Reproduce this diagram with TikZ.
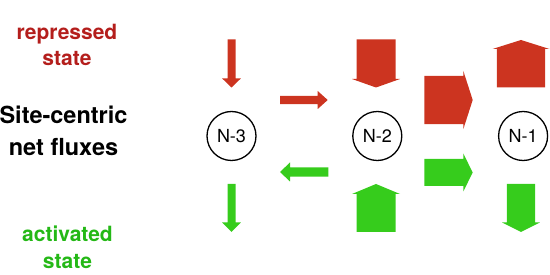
\documentclass[tikz,border=0pt]{standalone}
\usepackage{fontspec}
\setmainfont{TeX Gyre Heros}
\usetikzlibrary{positioning}

\definecolor{repText}{HTML}{B41E1C}
\definecolor{repFill}{HTML}{CC3420}
\definecolor{actText}{HTML}{24B816}
\definecolor{actFill}{HTML}{36CC1C}

% vertical block arrow: style, x centre, y start, y head base, y tip, shaft half width, head half width
\newcommand{\vFlux}[7]{%
	\fill[#1] (#2-#6,#3) -- (#2+#6,#3) -- (#2+#6,#4) -- (#2+#7,#4) -- (#2,#5)
		-- (#2-#7,#4) -- (#2-#6,#4) -- cycle;}
% horizontal block arrow: style, y centre, x start, x head base, x tip, shaft half width, head half width
\newcommand{\hFlux}[7]{%
	\fill[#1] (#3,#2-#6) -- (#3,#2+#6) -- (#4,#2+#6) -- (#4,#2+#7) -- (#5,#2)
		-- (#4,#2-#7) -- (#4,#2-#6) -- cycle;}

\begin{document}
\begin{tikzpicture}[
			x=1pt, y=-1pt,
			% Node styles
			siteNode/.style={circle, draw=black, line width=1.3pt, minimum size=49pt, inner sep=0pt, font=\fontsize{18}{18}\selectfont},
			stateLabel/.style={align=center, font=\fontsize{21}{26.5}\selectfont\bfseries},
			% Arrow styles
			repFlux/.style={fill=repFill},
			actFlux/.style={fill=actFill}
			]
			\useasboundingbox (0,0) rectangle (550,275);
			
			% =========================================================
			% 1. LABELS (Left Column)
			% =========================================================
			
			\node[stateLabel, text=repText] (repLabel) at (67,45) {repressed\\state};
			\node[align=center, font=\fontsize{23.5}{31.5}\selectfont\bfseries] (fluxLabel) at (63.5,131) {Site-centric\\net fluxes};
			\node[stateLabel, text=actText] (actLabel) at (67.5,247.5) {activated\\state};
			
			% =========================================================
			% 2. SITES
			% =========================================================
			
			\node[siteNode] (N3) at (231.5,136) {N-3};
			\node[siteNode, right=95.5pt of N3] (N2) {N-2};
			\node[siteNode, right=95.5pt of N2] (N1) {N-1};
			
			% =========================================================
			% 3. FLUXES
			% =========================================================
			
			% repressed state (above)
			\vFlux{repFlux}{231.5}{39.5}{78.5}{87.5}{4}{9.3}
			\vFlux{repFlux}{376}{39.5}{79}{87.5}{19.5}{24}
			\vFlux{repFlux}{521}{87.5}{49}{40}{24.2}{28.5}
			\hFlux{repFlux}{100}{280}{317.7}{327.7}{4.2}{9}
			\hFlux{repFlux}{100}{424.3}{463.3}{472.7}{24.2}{29.2}
			
			% activated state (below)
			\vFlux{actFlux}{231.5}{184}{222.5}{232}{4}{9.3}
			\vFlux{actFlux}{376}{232}{194}{184}{19.5}{24}
			\vFlux{actFlux}{521}{184}{222.5}{232}{14.2}{18.8}
			\hFlux{actFlux}{172}{328.3}{290}{280}{4.7}{9.5}
			\hFlux{actFlux}{172.5}{424.3}{463.3}{472.7}{13.5}{19}
			
		\end{tikzpicture}
\end{document}
